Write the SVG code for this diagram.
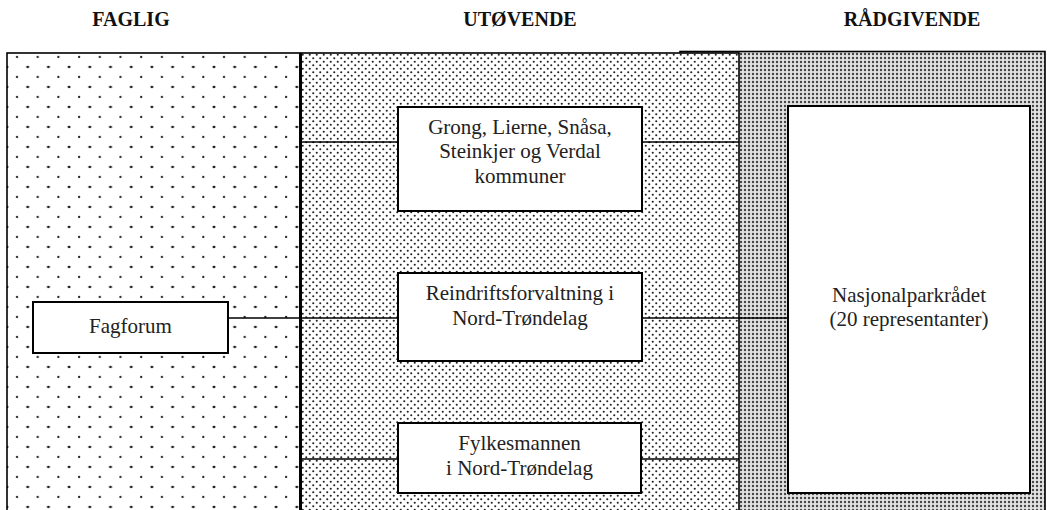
<svg xmlns="http://www.w3.org/2000/svg" width="1047" height="510" viewBox="0 0 1047 510">
<style>
.hdr{font-family:"Liberation Serif",serif;font-weight:bold;font-size:20px;fill:#111;text-anchor:middle}
.lbl{font-family:"Liberation Serif",serif;font-size:21px;fill:#222;text-anchor:middle}
.box{fill:#fff;stroke:#000;stroke-width:2}
.reg{stroke:#000;stroke-width:1.6}
.con{stroke:#000;stroke-width:1.6;fill:none}
</style>
<defs>
<pattern id="pSparse" x="7" y="53" width="20.7" height="20" patternUnits="userSpaceOnUse">
<rect width="20.7" height="20" fill="#fff"/>
<circle cx="10" cy="4" r="1.15" fill="#222"/>
<circle cx="20.35" cy="14" r="1.15" fill="#222"/>
<circle cx="0.35" cy="14" r="1.15" fill="#222"/>
</pattern>
<pattern id="pMid" x="301" y="53" width="7" height="7" patternUnits="userSpaceOnUse">
<rect width="7" height="7" fill="#fff"/>
<circle cx="1.75" cy="1.75" r="1.05" fill="#222"/>
<circle cx="5.25" cy="5.25" r="1.05" fill="#222"/>
</pattern>
<pattern id="pDense" x="739" y="52" width="4" height="4" patternUnits="userSpaceOnUse">
<rect width="4" height="4" fill="#e2e2e2"/>
<circle cx="2" cy="2" r="1.2" fill="#444"/>
</pattern>
</defs>

<g id="headers">
<text class="hdr" x="131" y="26">FAGLIG</text>
<text class="hdr" x="520" y="26">UTØVENDE</text>
<text class="hdr" x="912" y="26">RÅDGIVENDE</text>
</g>

<g id="regions">
<rect id="region-raadgivende" class="reg" x="680" y="51.5" width="365" height="470" fill="url(#pDense)"/>
<rect id="region-faglig" class="reg" x="7" y="53" width="293" height="470" fill="url(#pSparse)"/>
<rect id="region-utovende" class="reg" x="301" y="53" width="438" height="470" fill="url(#pMid)"/>
<line x1="300.5" y1="53" x2="300.5" y2="510" stroke="#000" stroke-width="3"/>
</g>

<g id="connectors">
<line class="con" x1="301" y1="142" x2="398" y2="142"/>
<line class="con" x1="642" y1="142" x2="739" y2="142"/>
<line class="con" x1="228" y1="318" x2="398" y2="318"/>
<line class="con" x1="642" y1="318" x2="788" y2="318"/>
<line class="con" x1="301" y1="459" x2="398" y2="459"/>
<line class="con" x1="641" y1="459" x2="739" y2="459"/>
</g>

<g id="node-grong">
<rect class="box" x="398" y="107" width="244" height="104"/>
<text class="lbl" x="520" y="134">Grong, Lierne, Snåsa,</text>
<text class="lbl" x="520" y="158">Steinkjer og Verdal</text>
<text class="lbl" x="520" y="183">kommuner</text>
</g>

<g id="node-reindrift">
<rect class="box" x="398" y="273" width="244" height="88"/>
<text class="lbl" x="520" y="300">Reindriftsforvaltning i</text>
<text class="lbl" x="520" y="325">Nord-Trøndelag</text>
</g>

<g id="node-fylkesmannen">
<rect class="box" x="398" y="423" width="243" height="70"/>
<text class="lbl" x="519.5" y="450">Fylkesmannen</text>
<text class="lbl" x="519.5" y="475">i Nord-Trøndelag</text>
</g>

<g id="node-fagforum">
<rect class="box" x="33" y="302" width="195" height="51"/>
<text class="lbl" x="130.5" y="333">Fagforum</text>
</g>

<g id="node-nasjonalparkraadet">
<rect class="box" x="788" y="106" width="242" height="387"/>
<text class="lbl" x="909" y="302">Nasjonalparkrådet</text>
<text class="lbl" x="909" y="326">(20 representanter)</text>
</g>
</svg>
